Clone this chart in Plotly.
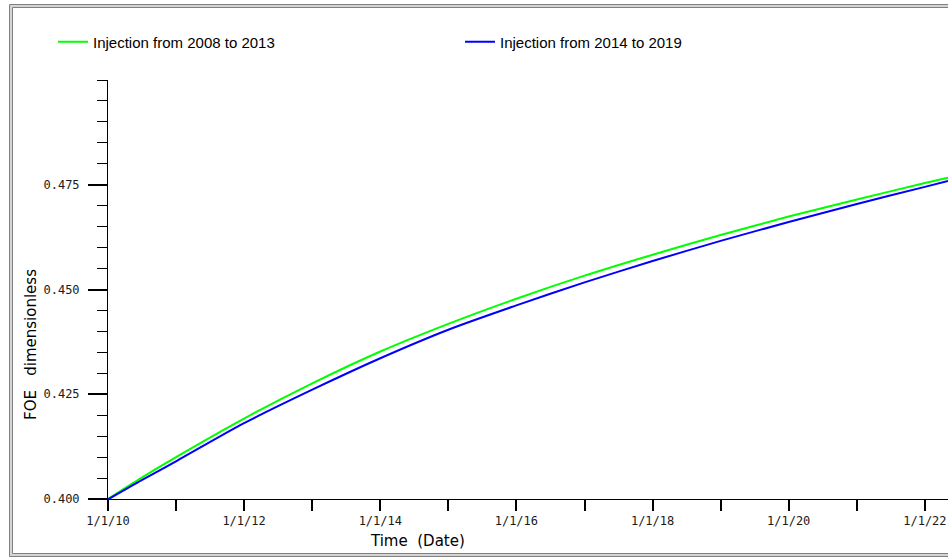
import plotly.graph_objects as go

# Field oil efficiency (FOE) forecasts for two injection schedules
dates = ["2010-01-01", "2010-07-01", "2011-01-01", "2012-01-01", "2013-01-01",
         "2014-01-01", "2015-01-01", "2016-01-01", "2017-01-01", "2018-01-01",
         "2019-01-01", "2020-01-01", "2021-01-01", "2022-01-01", "2022-05-05"]
foe_2008_2013 = [0.4000, 0.4051, 0.4100, 0.4192, 0.4276, 0.4352, 0.4418, 0.4478,
                 0.4533, 0.4583, 0.4630, 0.4674, 0.4715, 0.4754, 0.4767]
foe_2014_2019 = [0.3999, 0.4045, 0.4090, 0.4181, 0.4261, 0.4336, 0.4404, 0.4462,
                 0.4517, 0.4568, 0.4616, 0.4661, 0.4704, 0.4745, 0.4759]

series_names = ["Injection from 2008 to 2013", "Injection from 2014 to 2019"]
series_colors = ["#00ff00", "#0000ff"]

x_tick_vals = ["2010-01-01", "2011-01-01", "2012-01-01", "2013-01-01", "2014-01-01",
               "2015-01-01", "2016-01-01", "2017-01-01", "2018-01-01", "2019-01-01",
               "2020-01-01", "2021-01-01", "2022-01-01"]
x_tick_text = ["1/1/10", "", "1/1/12", "", "1/1/14", "", "1/1/16", "", "1/1/18", "",
               "1/1/20", "", "1/1/22"]
y_tick_vals = [0.400, 0.425, 0.450, 0.475]
y_tick_text = ["0.400", "0.425", "0.450", "0.475"]

W, H = 948, 557
L, R, T, B = 108, 948, 80, 499  # plot area in pixels


def px(x):
    return (x - L) / (R - L)


def py(y):
    return (B - y) / (B - T)


fig = go.Figure()
for name, vals, col in zip(series_names, [foe_2008_2013, foe_2014_2019], series_colors):
    fig.add_trace(go.Scatter(x=dates, y=vals, mode="lines", name=name,
                             line=dict(color=col, width=2, shape="spline", smoothing=0.8)))

tick_font = dict(family="DejaVu Sans Mono", size=12, color="#1a1a1a")
title_font = dict(family="DejaVu Sans", size=15, color="#000000")

fig.update_layout(
    width=W, height=H,
    margin=dict(l=L, r=W - R, t=T, b=H - B),
    paper_bgcolor="white", plot_bgcolor="white",
    showlegend=True,
    legend=dict(orientation="h", x=px(53), y=py(42), xanchor="left", yanchor="middle",
                entrywidth=362, entrywidthmode="pixels",
                font=dict(family="Liberation Sans", size=15, color="#000000"),
                bgcolor="rgba(0,0,0,0)", borderwidth=0),
    xaxis=dict(type="date", range=["2010-01-01", "2022-05-05"],
               showgrid=False, zeroline=False, showline=True, linecolor="black", linewidth=1,
               ticks="outside", ticklen=11, tickwidth=2, tickcolor="black",
               tickvals=x_tick_vals, ticktext=x_tick_text, tickfont=tick_font),
    yaxis=dict(range=[0.400, 0.500], showgrid=False, zeroline=False,
               showline=True, linecolor="black", linewidth=1,
               ticks="outside", ticklen=19, tickwidth=2, tickcolor="black",
               tickvals=y_tick_vals, ticktext=y_tick_text, tickfont=tick_font,
               ticklabelstandoff=6,
               minor=dict(dtick=0.005, ticks="outside", ticklen=10, tickwidth=1,
                          tickcolor="black", showgrid=False)),
)

# Axis titles
fig.add_annotation(text="Time\u00a0 (Date)", xref="paper", yref="paper", x=px(417), y=py(541),
                   showarrow=False, font=title_font, xanchor="center", yanchor="middle")
fig.add_annotation(text="FOE\u00a0\u00a0 dimensionless", xref="paper", yref="paper",
                   x=px(31), y=py(345), showarrow=False, font=title_font, textangle=-90,
                   xanchor="center", yanchor="middle")

# Double frame around the whole chart
for off, col, w in [(9.5, "#808080", 1), (11, "#d4d4d4", 2), (12.5, "#808080", 1)]:
    fig.add_shape(type="rect", xref="paper", yref="paper",
                  x0=px(off), x1=px(W + 20), y0=py(H - off + 9), y1=py(off - 5),
                  line=dict(color=col, width=w), fillcolor="rgba(0,0,0,0)", layer="above")

fig.write_html("out.html")
